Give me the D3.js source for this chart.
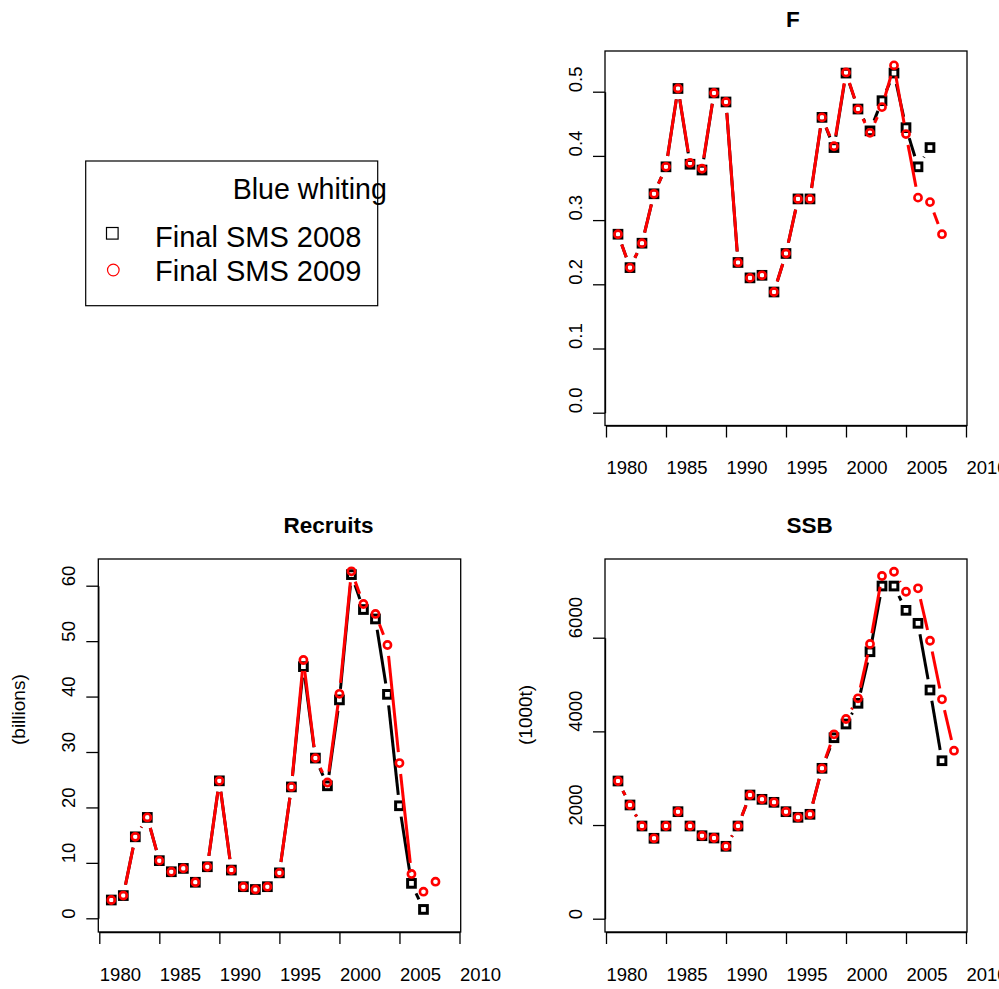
<!DOCTYPE html>
<html><head><meta charset="utf-8">
<script src="https://cdn.jsdelivr.net/npm/d3@7"></script>
<style>
html,body{margin:0;padding:0;background:#fff;}
svg{display:block;font-family:"Liberation Sans",Arial,Helvetica,sans-serif;}
</style></head><body>
<svg id="chart" width="999" height="989"></svg>
<script>
// ---------------- data ----------------
const years = [1981,1982,1983,1984,1985,1986,1987,1988,1989,1990,1991,1992,1993,1994,1995,
  1996,1997,1998,1999,2000,2001,2002,2003,2004,2005,2006,2007,2008,2009];
const xTicks = [1980,1985,1990,1995,2000,2005,2010];
const fTicks = [0,0.1,0.2,0.3,0.4,0.5];
const fTickLabels = ["0.0","0.1","0.2","0.3","0.4","0.5"];
const recTicks = [0,10,20,30,40,50,60];
const recTickLabels = ["0","10","20","30","40","50","60"];
const ssbTicks = [0,2000,4000,6000];
const ssbTickLabels = ["0","2000","4000","6000"];
const stockName = "Blue whiting";
const seriesNames = ["Final SMS 2008","Final SMS 2009"];
const panelTitles = ["F","Recruits","SSB"];
const yLabels = ["", "(billions)", "(1000t)"];

// F (1981-2007 / 1981-2008)
const fSMS2008 = [0.278,0.226,0.264,0.341,0.383,0.505,0.387,0.378,0.498,0.484,0.234,0.210,0.214,0.188,0.248,
  0.333,0.333,0.460,0.413,0.529,0.473,0.439,0.486,0.529,0.444,0.383,0.413];
const fSMS2009 = [0.278,0.226,0.264,0.341,0.383,0.505,0.389,0.380,0.498,0.484,0.234,0.210,0.214,0.188,0.248,
  0.333,0.333,0.460,0.415,0.530,0.473,0.436,0.476,0.541,0.434,0.335,0.328,0.278];
// Recruits, billions (1981-2007 / 1981-2008)
const recSMS2008 = [3.3,4.1,14.7,18.2,10.4,8.4,9.0,6.5,9.3,24.8,8.7,5.7,5.2,5.7,8.2,
  23.7,45.4,28.9,23.9,39.4,62.0,55.7,54.0,40.4,20.3,6.3,1.6];
const recSMS2009 = [3.3,4.1,14.7,18.2,10.4,8.4,9.0,6.5,9.3,24.8,8.7,5.7,5.2,5.7,8.2,
  23.7,46.6,28.9,24.5,40.5,62.6,56.7,54.9,49.3,28.0,8.0,4.8,6.6];
// SSB, 1000 t (1981-2008 / 1981-2009)
const ssbSMS2008 = [2940,2428,1979,1717,1979,2285,1979,1772,1723,1546,1979,2641,2549,2485,2285,
  2165,2229,3211,3864,4157,4599,5700,7103,7103,6584,6307,4883,3373];
const ssbSMS2009 = [2940,2428,1979,1717,1979,2285,1979,1772,1723,1546,1979,2641,2549,2485,2285,
  2165,2229,3211,3937,4264,4706,5865,7317,7408,6981,7054,5935,4684,3587];

// ---------------- layout ----------------
const svg = d3.select("#chart");
const FONT = 18.5;
const panels = [
  {title: panelTitles[0], ylab: yLabels[0], box:{l:605,r:967,t:51,b:425.5}, xr:[606,966],
   yd:[0,0.5], yr:[412.7,91.7], ticks:fTicks, labels:fTickLabels,
   s08:fSMS2008, s09:fSMS2009, titleX:786, titleY:26.7},
  {title: panelTitles[1], ylab: yLabels[1], box:{l:98.3,r:460.7,t:559,b:932}, xr:[99.3,459.5],
   yd:[0,60], yr:[918.3,585.7], ticks:recTicks, labels:recTickLabels,
   s08:recSMS2008, s09:recSMS2009, titleX:283.5, titleY:533.3},
  {title: panelTitles[2], ylab: yLabels[2], box:{l:605,r:967,t:559,b:932}, xr:[606,966],
   yd:[0,6000], yr:[918.7,637.7], ticks:ssbTicks, labels:ssbTickLabels,
   s08:ssbSMS2008, s09:ssbSMS2009, titleX:786.5, titleY:533.3}
];

const GAP = 11;
function gappedSegments(pts){
  const segs = [];
  for(let i=1;i<pts.length;i++){
    const [x0,y0] = pts[i-1], [x1,y1] = pts[i];
    const d = Math.hypot(x1-x0, y1-y0);
    if(d > 2*GAP){
      const f = GAP/d;
      segs.push([x0+f*(x1-x0), y0+f*(y1-y0), x1-f*(x1-x0), y1-f*(y1-y0)]);
    }
  }
  return segs;
}

panels.forEach(p => {
  const g = svg.append("g");
  const x = d3.scaleLinear().domain([1980,2010]).range(p.xr);
  const y = d3.scaleLinear().domain(p.yd).range(p.yr);

  // box
  g.append("rect").attr("x",p.box.l).attr("y",p.box.t)
    .attr("width",p.box.r-p.box.l).attr("height",p.box.b-p.box.t)
    .attr("fill","none").attr("stroke","#000").attr("stroke-width",1.3);

  // x axis
  const xa = g.append("g").attr("transform",`translate(0,${p.box.b})`)
    .call(d3.axisBottom(x).tickValues(xTicks).tickFormat(d3.format("d")).tickSize(12).tickSizeOuter(0));
  xa.select(".domain").attr("stroke","#000").attr("stroke-width",1.3);
  xa.selectAll(".tick line").attr("stroke","#000").attr("stroke-width",1.3);
  xa.selectAll(".tick text").attr("text-anchor","start").attr("y",48.5).attr("dy",null)
    .attr("font-size",FONT).attr("font-family",null).attr("fill","#000");
  xa.attr("font-family",null).attr("font-size",null);

  // y axis
  const ya = g.append("g").attr("transform",`translate(${p.box.l},0)`)
    .call(d3.axisLeft(y).tickValues(p.ticks).tickFormat((d,i)=>p.labels[i]).tickSize(12).tickSizeOuter(0));
  ya.select(".domain").attr("stroke","#000").attr("stroke-width",1.3);
  ya.selectAll(".tick line").attr("stroke","#000").attr("stroke-width",1.3);
  ya.selectAll(".tick text").attr("text-anchor","start").attr("transform","rotate(-90)")
    .attr("x",0).attr("y",-23.5).attr("dy",null)
    .attr("font-size",FONT).attr("fill","#000");
  ya.attr("font-family",null).attr("font-size",null);

  // title
  g.append("text").attr("x",p.titleX).attr("y",p.titleY).attr("font-weight","bold")
    .attr("font-size",22.5).attr("fill","#000").text(p.title);

  // y label
  if(p.ylab){
    const lx = p.box.l - 73;
    const ly = (p.box.t + p.box.b)/2 - 0.5;
    g.append("text").attr("transform",`translate(${lx},${ly}) rotate(-90)`)
      .attr("text-anchor","start").attr("font-size",FONT+0.5).attr("fill","#000").text(p.ylab);
  }

  // series
  const series = [
    {vals:p.s08, color:"#000", shape:"square"},
    {vals:p.s09, color:"#ff0000", shape:"circle"}
  ];
  series.forEach(s => {
    const pts = s.vals.map((v,i)=>[x(years[i]), y(v)]);
    g.append("g").selectAll("line").data(gappedSegments(pts)).join("line")
      .attr("x1",d=>d[0]).attr("y1",d=>d[1]).attr("x2",d=>d[2]).attr("y2",d=>d[3])
      .attr("stroke",s.color).attr("stroke-width",3);
    if(s.shape==="square"){
      const sz = 7.7;
      g.append("g").selectAll("rect").data(pts).join("rect")
        .attr("x",d=>d[0]-sz/2).attr("y",d=>d[1]-sz/2).attr("width",sz).attr("height",sz)
        .attr("fill","none").attr("stroke",s.color).attr("stroke-width",3);
    } else {
      g.append("g").selectAll("circle").data(pts).join("circle")
        .attr("cx",d=>d[0]).attr("cy",d=>d[1]).attr("r",3.6)
        .attr("fill","none").attr("stroke",s.color).attr("stroke-width",2.6);
    }
  });
});

// ---------------- legend ----------------
const LFONT = 29;
const lg = svg.append("g");
lg.append("rect").attr("x",85.7).attr("y",161).attr("width",292).attr("height",144.7)
  .attr("fill","none").attr("stroke","#000").attr("stroke-width",1.2);
lg.append("text").attr("x",232.7).attr("y",199.3).attr("font-size",28.6).attr("fill","#000").text(stockName);
lg.append("rect").attr("x",112.3-5.8).attr("y",233.3-5.8).attr("width",11.6).attr("height",11.6)
  .attr("fill","none").attr("stroke","#000").attr("stroke-width",1.2);
lg.append("circle").attr("cx",113.3).attr("cy",270).attr("r",5.8)
  .attr("fill","none").attr("stroke","#ff0000").attr("stroke-width",1.2);
lg.append("text").attr("x",155).attr("y",246.7).attr("font-size",LFONT).attr("fill","#000").text(seriesNames[0]);
lg.append("text").attr("x",155).attr("y",281).attr("font-size",LFONT).attr("fill","#000").text(seriesNames[1]);
</script>
</body></html>
